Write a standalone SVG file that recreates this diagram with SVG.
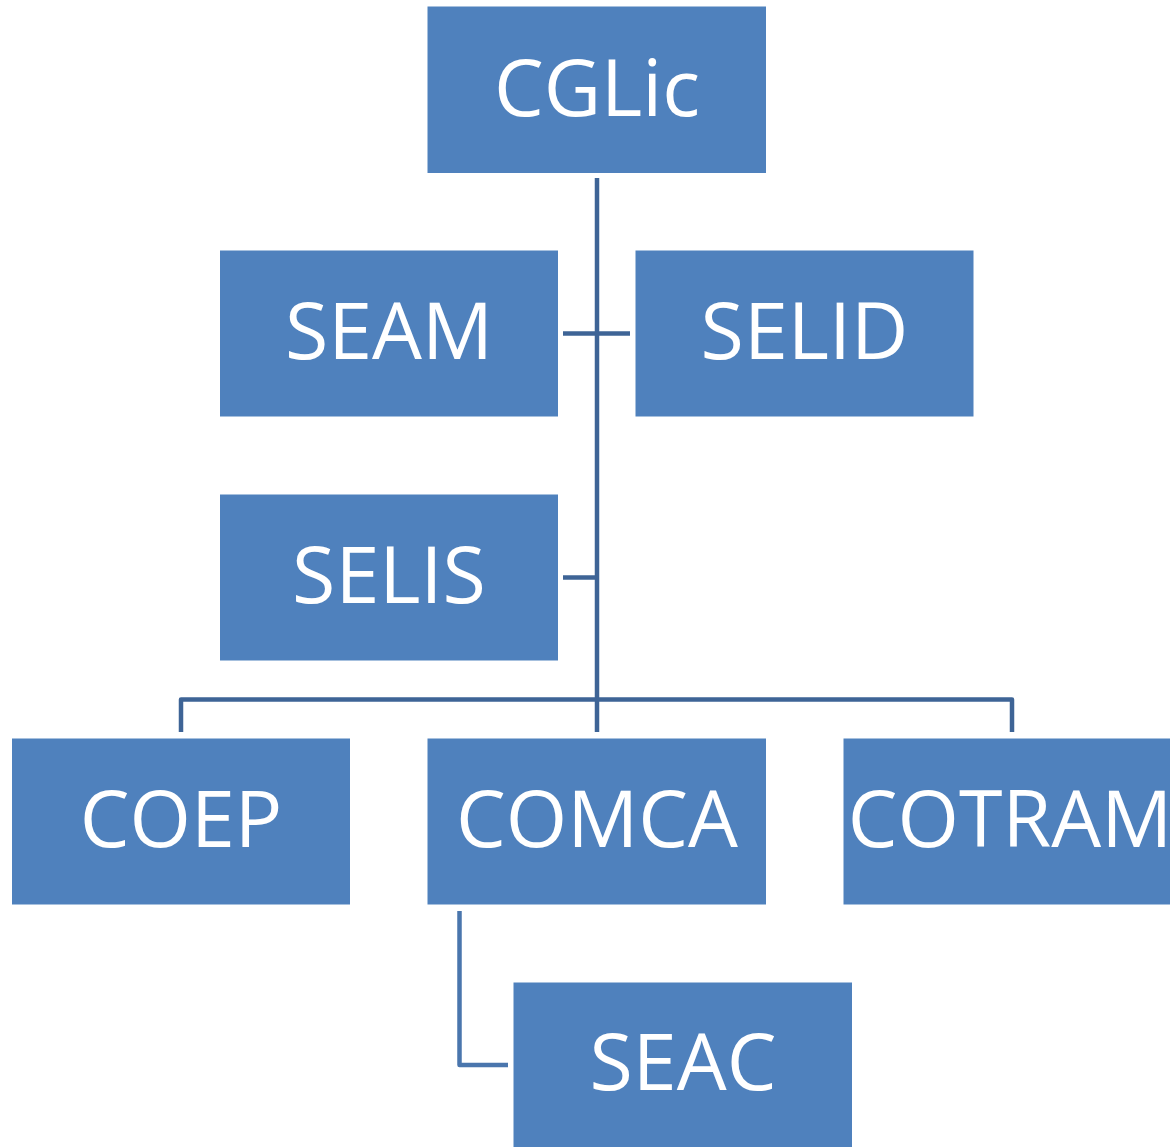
<svg xmlns="http://www.w3.org/2000/svg" width="1170" height="1147" viewBox="0 0 1170 1147">
<style>
.box{fill:#4F81BD;}
.lbl{fill:#FFFFFF;font-family:"Open Sans","Liberation Sans",sans-serif;font-size:79px;text-anchor:middle;}
.con{fill:none;stroke:#3E6496;stroke-width:4.5;stroke-linejoin:round;}
.con2{fill:none;stroke:#4A76AD;stroke-width:4.5;stroke-linejoin:round;}
</style>
<rect width="1170" height="1147" fill="#FFFFFF"/>
<g id="connectors">
<path class="con" d="M597 178 V732"/>
<path class="con" d="M563 333.5 H630"/>
<path class="con" d="M563 577.5 H597"/>
<path class="con" d="M181 732 V699.5 H1012 V732"/>
<path class="con2" d="M459.5 911 V1065 H508"/>
</g>
<g id="CGLic"><rect class="box" x="427.5" y="6.5" width="338.5" height="166.5"/><text class="lbl" x="597" y="116">CGLic</text></g>
<g id="SEAM"><rect class="box" x="220" y="250.5" width="338" height="166"/><text class="lbl" x="389" y="359">SEAM</text></g>
<g id="SELID"><rect class="box" x="635.5" y="250.5" width="338" height="166"/><text class="lbl" x="804.5" y="359">SELID</text></g>
<g id="SELIS"><rect class="box" x="220" y="494.5" width="338" height="166"/><text class="lbl" x="389" y="603">SELIS</text></g>
<g id="COEP"><rect class="box" x="12" y="738.5" width="338" height="166"/><text class="lbl" x="181" y="847">COEP</text></g>
<g id="COMCA"><rect class="box" x="427.5" y="738.5" width="338.5" height="166"/><text class="lbl" x="597" y="847">COMCA</text></g>
<g id="COTRAM"><rect class="box" x="843.5" y="738.5" width="338.5" height="166"/><text class="lbl" x="1010" y="847">COTRAM</text></g>
<g id="SEAC"><rect class="box" x="513.5" y="982.5" width="338.5" height="166"/><text class="lbl" x="683" y="1090">SEAC</text></g>
</svg>
